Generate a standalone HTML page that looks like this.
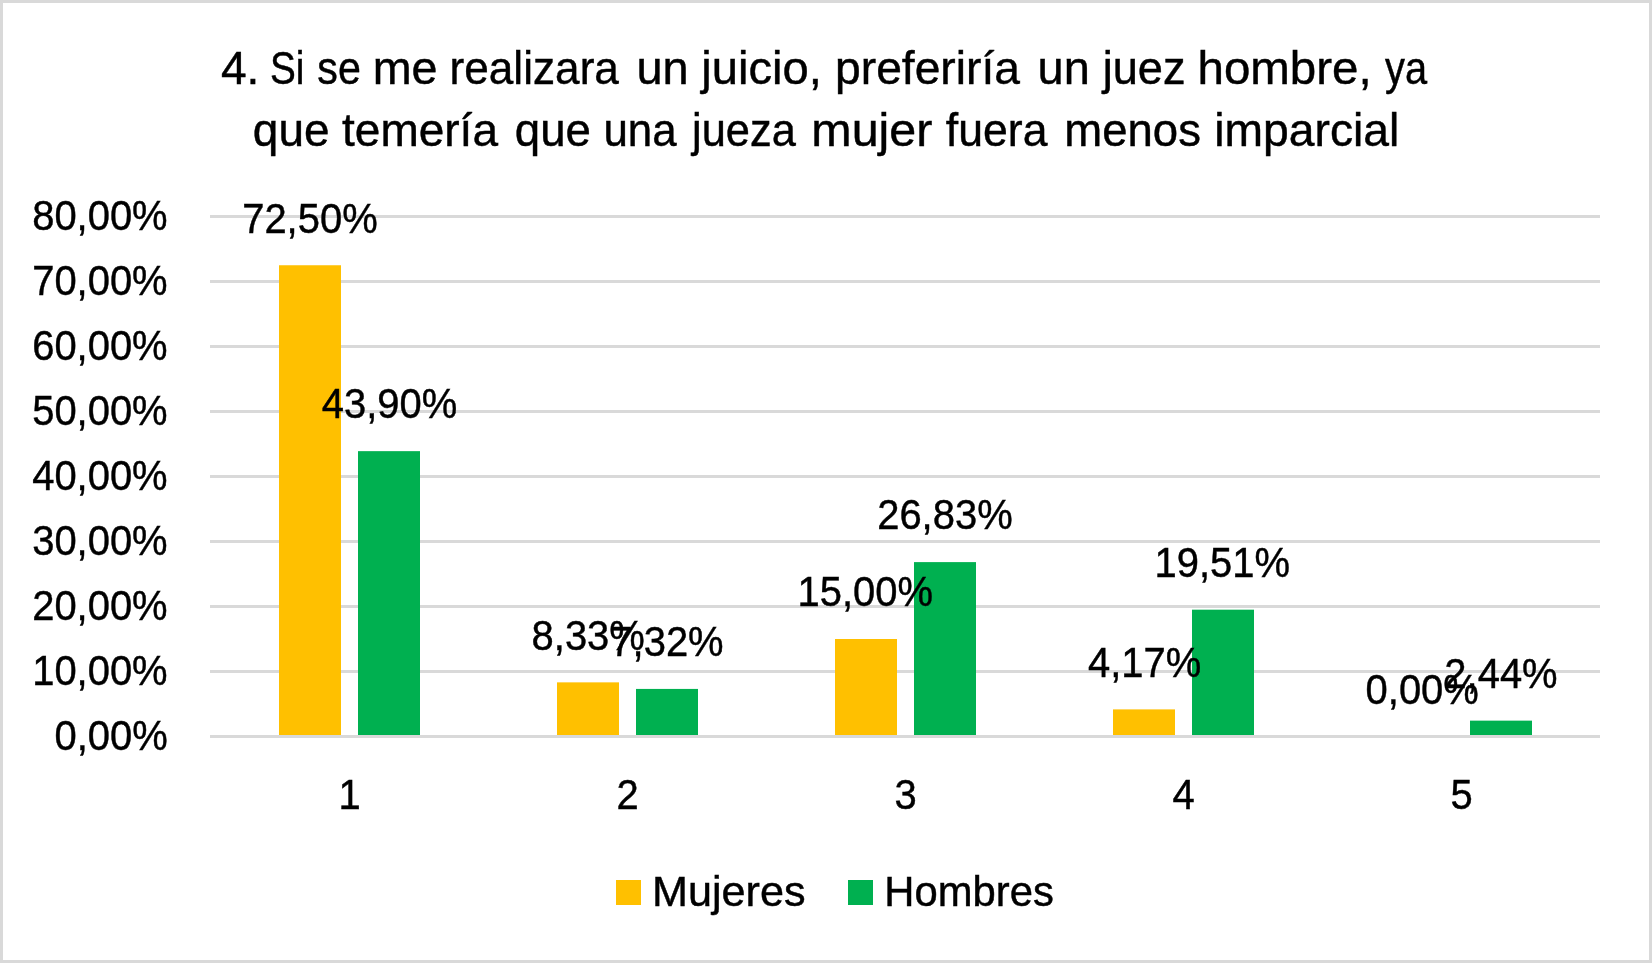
<!DOCTYPE html>
<html><head><meta charset="utf-8"><style>
html,body{margin:0;padding:0;background:#fff;}
svg{display:block;will-change:transform;}
text{font-family:"Liberation Sans",sans-serif;fill:#000000;stroke:#000000;stroke-width:0.45px;}
</style></head><body>
<svg width="1652" height="963" viewBox="0 0 1652 963">
<rect x="1.5" y="1.5" width="1649" height="960" fill="#fff" stroke="#D9D9D9" stroke-width="3"/>
<rect x="210" y="215" width="1390" height="3" fill="#D9D9D9"/>
<rect x="210" y="280" width="1390" height="3" fill="#D9D9D9"/>
<rect x="210" y="345" width="1390" height="3" fill="#D9D9D9"/>
<rect x="210" y="410" width="1390" height="3" fill="#D9D9D9"/>
<rect x="210" y="475" width="1390" height="3" fill="#D9D9D9"/>
<rect x="210" y="540" width="1390" height="3" fill="#D9D9D9"/>
<rect x="210" y="605" width="1390" height="3" fill="#D9D9D9"/>
<rect x="210" y="670" width="1390" height="3" fill="#D9D9D9"/>
<rect x="279" y="265.25" width="62" height="471.25" fill="#FFC000"/>
<rect x="358" y="451.15" width="62" height="285.35" fill="#00B050"/>
<rect x="557" y="682.36" width="62" height="54.14" fill="#FFC000"/>
<rect x="636" y="688.92" width="62" height="47.58" fill="#00B050"/>
<rect x="835" y="639.00" width="62" height="97.50" fill="#FFC000"/>
<rect x="914" y="562.11" width="62" height="174.39" fill="#00B050"/>
<rect x="1113" y="709.39" width="62" height="27.11" fill="#FFC000"/>
<rect x="1192" y="609.68" width="62" height="126.82" fill="#00B050"/>
<rect x="1391" y="736.50" width="62" height="0.00" fill="#FFC000"/>
<rect x="1470" y="720.64" width="62" height="15.86" fill="#00B050"/>
<rect x="210" y="735" width="1390" height="3" fill="#D9D9D9"/>
<rect x="616" y="880" width="25" height="25" fill="#FFC000"/>
<rect x="848" y="880" width="25" height="25" fill="#00B050"/>
<text transform="translate(32.17,230.10) scale(0.9400,1)" font-size="42.5">80,00%</text>
<text transform="translate(32.17,295.10) scale(0.9400,1)" font-size="42.5">70,00%</text>
<text transform="translate(32.17,360.10) scale(0.9400,1)" font-size="42.5">60,00%</text>
<text transform="translate(32.17,425.10) scale(0.9400,1)" font-size="42.5">50,00%</text>
<text transform="translate(32.17,490.10) scale(0.9400,1)" font-size="42.5">40,00%</text>
<text transform="translate(32.17,555.10) scale(0.9400,1)" font-size="42.5">30,00%</text>
<text transform="translate(32.17,620.10) scale(0.9400,1)" font-size="42.5">20,00%</text>
<text transform="translate(32.17,685.10) scale(0.9400,1)" font-size="42.5">10,00%</text>
<text transform="translate(54.54,750.10) scale(0.9400,1)" font-size="42.5">0,00%</text>
<text transform="translate(338.61,809.40) scale(0.9400,1)" font-size="42.5">1</text>
<text transform="translate(616.51,809.40) scale(0.9400,1)" font-size="42.5">2</text>
<text transform="translate(894.51,809.40) scale(0.9400,1)" font-size="42.5">3</text>
<text transform="translate(1172.51,809.40) scale(0.9400,1)" font-size="42.5">4</text>
<text transform="translate(1450.51,809.40) scale(0.9400,1)" font-size="42.5">5</text>
<text transform="translate(242.19,232.55) scale(0.9400,1)" font-size="42.5">72,50%</text>
<text transform="translate(321.78,418.45) scale(0.9400,1)" font-size="42.5">43,90%</text>
<text transform="translate(531.57,649.65) scale(0.9400,1)" font-size="42.5">8,33%</text>
<text transform="translate(610.37,656.22) scale(0.9400,1)" font-size="42.5">7,32%</text>
<text transform="translate(797.59,606.30) scale(0.9400,1)" font-size="42.5">15,00%</text>
<text transform="translate(877.19,529.40) scale(0.9400,1)" font-size="42.5">26,83%</text>
<text transform="translate(1087.97,676.69) scale(0.9400,1)" font-size="42.5">4,17%</text>
<text transform="translate(1154.59,576.98) scale(0.9400,1)" font-size="42.5">19,51%</text>
<text transform="translate(1365.57,703.80) scale(0.9400,1)" font-size="42.5">0,00%</text>
<text transform="translate(1444.37,687.94) scale(0.9400,1)" font-size="42.5">2,44%</text>
<text transform="translate(652.05,905.80) scale(1.0160,1)" font-size="42.5">Mujeres</text>
<text transform="translate(884.36,905.80) scale(0.9830,1)" font-size="42.5">Hombres</text>
<text transform="translate(220.88,83.60) scale(1.0024,1)" font-size="46">4.</text>
<text transform="translate(269.96,83.60) scale(0.8413,1)" font-size="46">Si</text>
<text transform="translate(317.36,83.60) scale(0.8962,1)" font-size="46">se</text>
<text transform="translate(372.73,83.60) scale(1.0151,1)" font-size="46">me</text>
<text transform="translate(449.51,83.60) scale(0.9607,1)" font-size="46">realizara</text>
<text transform="translate(636.51,83.60) scale(1.0204,1)" font-size="46">un</text>
<text transform="translate(701.24,83.60) scale(1.0250,1)" font-size="46">juicio,</text>
<text transform="translate(835.07,83.60) scale(1.0045,1)" font-size="46">preferiría</text>
<text transform="translate(1037.61,83.60) scale(1.0204,1)" font-size="46">un</text>
<text transform="translate(1102.70,83.60) scale(0.9825,1)" font-size="46">juez</text>
<text transform="translate(1197.48,83.60) scale(1.0325,1)" font-size="46">hombre,</text>
<text transform="translate(1385.00,83.60) scale(0.8655,1)" font-size="46">ya</text>
<text transform="translate(252.86,145.80) scale(0.9989,1)" font-size="46">que</text>
<text transform="translate(342.08,145.80) scale(0.9999,1)" font-size="46">temería</text>
<text transform="translate(514.87,145.80) scale(0.9920,1)" font-size="46">que</text>
<text transform="translate(603.43,145.80) scale(0.9538,1)" font-size="46">una</text>
<text transform="translate(692.07,145.80) scale(0.9435,1)" font-size="46">jueza</text>
<text transform="translate(811.31,145.80) scale(1.0527,1)" font-size="46">mujer</text>
<text transform="translate(945.85,145.80) scale(0.9692,1)" font-size="46">fuera</text>
<text transform="translate(1064.31,145.80) scale(0.9895,1)" font-size="46">menos</text>
<text transform="translate(1214.16,145.80) scale(1.0066,1)" font-size="46">imparcial</text>
</svg>
</body></html>
